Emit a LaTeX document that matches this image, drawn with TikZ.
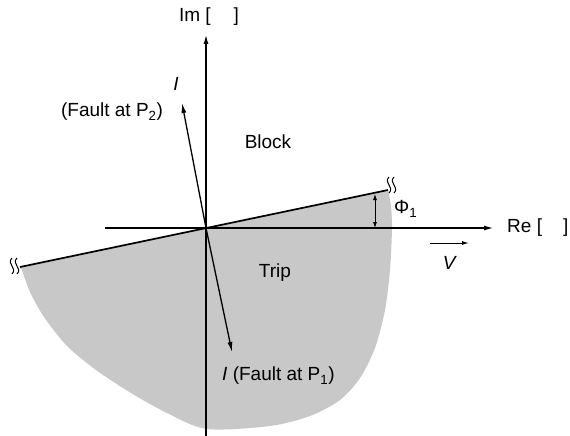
\documentclass[tikz,border=0pt]{standalone}
\usepackage{fontspec}
\setmainfont{Liberation Sans}
\usetikzlibrary{positioning,calc,arrows.meta}
\definecolor{tripgray}{HTML}{C8C8C8}

\begin{document}
\begin{tikzpicture}[x=1pt,y=-1pt,
    lbl/.style={font=\fontsize{19}{22}\selectfont, inner sep=1pt},
    axis/.style={-{Latex[length=9pt,width=5pt]}, line width=1.1pt},
    phasor/.style={-{Latex[length=10pt,width=5pt]}, line width=1.3pt},
    border/.style={line width=1.7pt},
    brk/.pic={\draw[line width=1pt] (0,-8) .. controls (-6,-2) and (6,2) .. (0,8);
              \draw[line width=1pt] (5,-8) .. controls (-1,-2) and (11,2) .. (5,8);}
  ]
  \useasboundingbox (0,0) rectangle (570,436);

  % points of the diagram
  \coordinate (O) at (206,228);
  \coordinate (L) at (20,267);
  \coordinate (R) at (388,190);
  \coordinate (xl) at (105,228);
  \coordinate (xr) at (493,228);
  \coordinate (yb) at (206,436);
  \coordinate (yt) at (206,35);
  \coordinate (i1) at (232,352);
  \coordinate (i2) at (182,103);

  % trip region
  \fill[tripgray] (L) -- (O) -- (R) -- plot[smooth] coordinates {(391,205) (392,228) (390,270) (385,310) (375,348) (360,378) (340,400) (310,416) (270,426) (207,429) (167,413) (131,393) (96,370) (67,346) (44,317) (30,292) (22,270)} -- cycle;

  % axes
  \draw[axis] (xl) -- (xr);
  \draw[axis] (yb) -- (yt);
  \node[lbl] (im) at (209,17) {Im [\hspace{23pt}]};
  \node[lbl, anchor=west] (re) at (506,228) {Re [\hspace{21pt}]};

  % characteristic line
  \draw[border] (L) -- (R);
  \pic at (389,185) {brk};
  \pic at (12,266) {brk};

  % angle
  \coordinate (pha) at (375,194);
  \coordinate (phb) at (375,228);
  \draw[{Latex[length=6pt,width=4pt]}-{Latex[length=6pt,width=4pt]}, line width=0.8pt] (pha) -- (phb);
  \node[lbl, anchor=west] (phi) at (393,209) {Φ\textsubscript{1}};

  % current phasors
  \draw[phasor] (O) -- (i1);
  \draw[phasor] (O) -- (i2);
  \node[lbl, anchor=west] (f1) at (221,376) {\textit{I} (Fault at P\textsubscript{1})};
  \node[lbl] (il2) at (176,84) {\textit{I}};
  \node[lbl] (f2) at (112,112) {(Fault at P\textsubscript{2})};

  % regions
  \node[lbl] (block) at (268,142) {Block};
  \node[lbl] (trip) at (275,273) {Trip};

  % voltage
  \node[lbl] (v) at (450,263) {\textit{V}};
  \coordinate (va) at (430,243);
  \coordinate (vb) at (469,243);
  \draw[-{Latex[length=7pt,width=4pt]}, line width=1pt] (va) -- (vb);
\end{tikzpicture}
\end{document}
